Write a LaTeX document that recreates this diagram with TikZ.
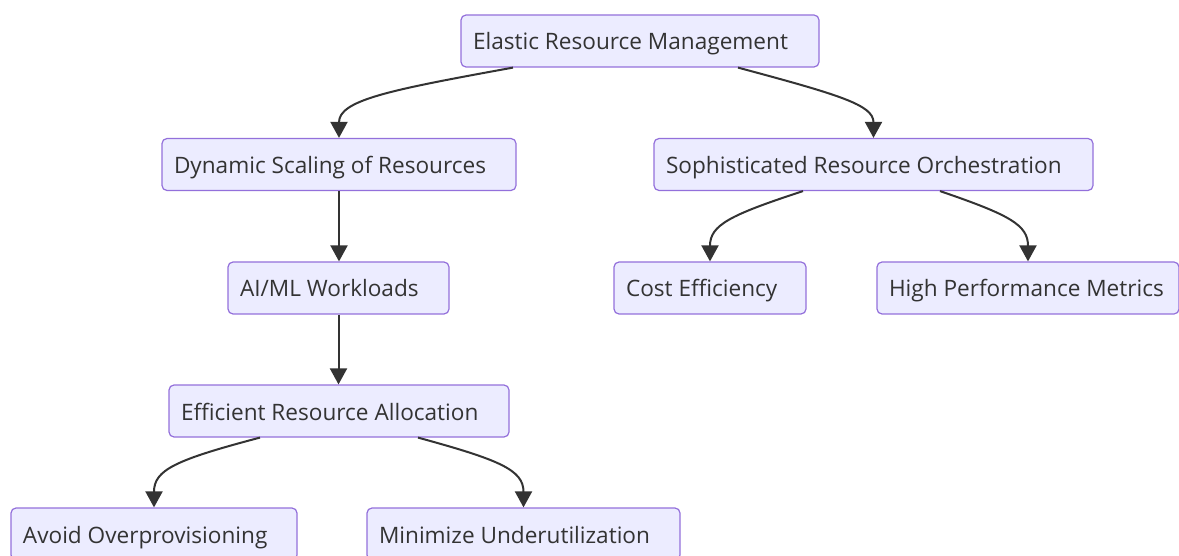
\documentclass[tikz,border=0pt]{standalone}
\usepackage{fontspec}
\setmainfont{Open Sans}
\usetikzlibrary{arrows.meta}
\definecolor{nodefill}{HTML}{ECECFF}
\definecolor{nodeline}{HTML}{9370DB}
\definecolor{txt}{HTML}{333333}
\newcommand{\lbl}[2]{\makebox[\dimexpr#1-24pt\relax][l]{#2}}
\tikzset{
  box/.style={draw=nodeline, fill=nodefill, line width=1.2pt, rounded corners=5pt,
    minimum height=52pt, inner ysep=0pt, inner xsep=12pt, text height=20pt, text depth=2pt,
    text=txt, font=\fontsize{22.6pt}{26pt}\selectfont},
  link/.style={draw=txt, line width=2pt, -{Triangle[length=16pt,width=17pt]}}
}
\begin{document}
\begin{tikzpicture}[x=1pt,y=-1pt]
\useasboundingbox (0,0) rectangle (1179,556);
\clip (0,0) rectangle (1179,556);
\node[box] (erm) at (640,41) {\lbl{358pt}{Elastic Resource Management}};
\node[box] (dyn) at (339,164.5) {\lbl{354pt}{Dynamic Scaling of Resources}};
\node[box] (soph) at (873.5,164.5) {\lbl{439pt}{Sophisticated Resource Orchestration}};
\node[box] (aiml) at (338.5,288) {\lbl{221pt}{AI/ML Workloads}};
\node[box] (cost) at (710,288) {\lbl{192pt}{Cost Efficiency}};
\node[box] (high) at (1028,288) {\lbl{302pt}{High Performance Metrics}};
\node[box] (eff) at (339,411) {\lbl{340pt}{Efficient Resource Allocation}};
\node[box] (avoid) at (154,534) {\lbl{286pt}{Avoid Overprovisioning}};
\node[box] (mini) at (523.5,534) {\lbl{313pt}{Minimize Underutilization}};

\draw[link] (erm.south -| 513,0) .. controls (390,90) and (339,100) .. (dyn.north);
\draw[link] (erm.south -| 738,0) .. controls (840,95) and (873.5,105) .. (soph.north);
\draw[link] (dyn.south) -- (aiml.north -| dyn.south);
\draw[link] (aiml.south) -- (eff.north -| aiml.south);
\draw[link] (soph.south -| 803,0) .. controls (730,215) and (710,225) .. (cost.north);
\draw[link] (soph.south -| 940,0) .. controls (1010,215) and (1028,225) .. (high.north);
\draw[link] (eff.south -| 260,0) .. controls (175,460) and (154,470) .. (avoid.north);
\draw[link] (eff.south -| 418,0) .. controls (500,460) and (523.5,470) .. (mini.north);
\end{tikzpicture}
\end{document}
